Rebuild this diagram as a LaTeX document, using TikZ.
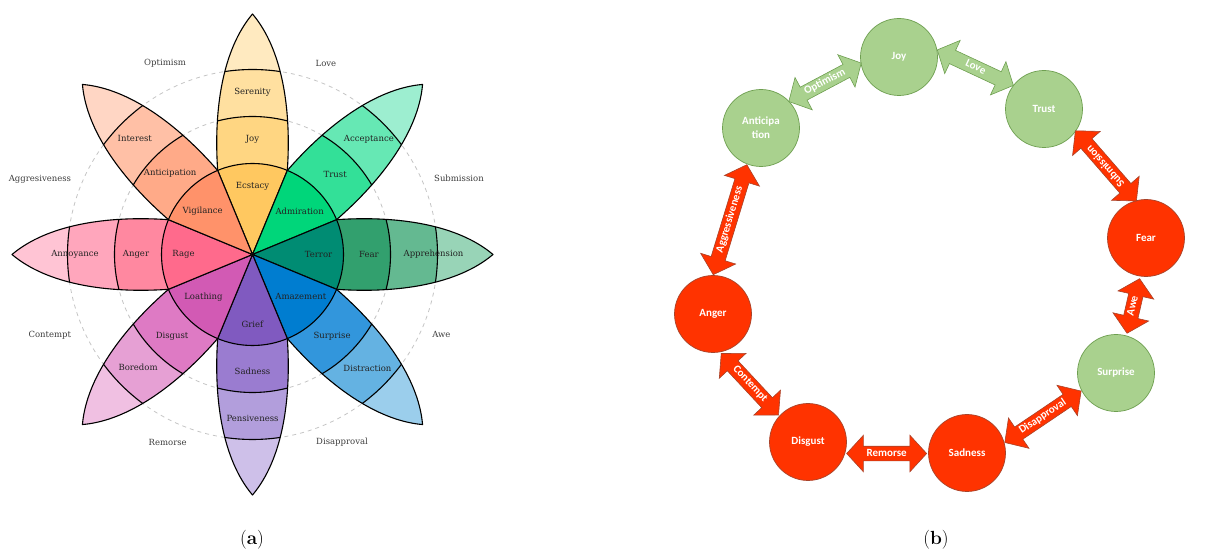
\documentclass[tikz,border=0pt]{standalone}
\usepackage{fontspec}
\newfontfamily\wheelfont{DejaVu Serif}
\newfontfamily\calfont{Carlito}
\usetikzlibrary{shapes.arrows}

% wheel colours: inner / second / third / tip
\definecolor{ecst}{HTML}{FFC860}\definecolor{joyc}{HTML}{FFD682}\definecolor{sere}{HTML}{FFE0A0}\definecolor{joyo}{HTML}{FFEAC0}
\definecolor{admi}{HTML}{00D67A}\definecolor{trus}{HTML}{33E098}\definecolor{acce}{HTML}{66E8B4}\definecolor{truo}{HTML}{9DEED0}
\definecolor{terr}{HTML}{008C73}\definecolor{fear}{HTML}{32A06E}\definecolor{appr}{HTML}{64B991}\definecolor{feao}{HTML}{98D4B7}
\definecolor{amaz}{HTML}{007DD0}\definecolor{surp}{HTML}{3296DC}\definecolor{dist}{HTML}{64B2E2}\definecolor{suro}{HTML}{9BCEEC}
\definecolor{grie}{HTML}{805AC0}\definecolor{sadn}{HTML}{9A7CD0}\definecolor{pens}{HTML}{B29EDC}\definecolor{sado}{HTML}{CEC0E9}
\definecolor{loat}{HTML}{D25AB4}\definecolor{disg}{HTML}{DE7AC4}\definecolor{bore}{HTML}{E6A0D4}\definecolor{diso}{HTML}{F0C0E2}
\definecolor{rage}{HTML}{FF6A8C}\definecolor{ange}{HTML}{FF88A0}\definecolor{anno}{HTML}{FFA6BC}\definecolor{ango}{HTML}{FFC4D4}
\definecolor{vigi}{HTML}{FF926A}\definecolor{anti}{HTML}{FFAA88}\definecolor{inte}{HTML}{FFC0A6}\definecolor{anto}{HTML}{FFD6C4}
\definecolor{guidegray}{HTML}{C4C4C4}
\definecolor{wtext}{HTML}{222222}
\definecolor{otext}{HTML}{3C3C3C}
% right panel
\definecolor{grfill}{HTML}{A9D18E}
\definecolor{grline}{HTML}{6E9F50}
\definecolor{rdfill}{HTML}{FF3300}
\definecolor{rdline}{HTML}{A8432A}

\newcommand{\petalpath}{(0,0) -- (112.5:91) .. controls (-39,145) and (-30,205) .. (0,240.5) .. controls (30,205) and (39,145) .. (67.5:91) -- cycle}

\begin{document}
\begin{tikzpicture}[x=1pt, y=1pt,
    rim/.style={line width=1.1pt, line join=round},
    guide/.style={draw=guidegray, line width=0.8pt, dash pattern=on 4pt off 4pt},
    wlbl/.style={font=\wheelfont\fontsize{8.5}{10}\selectfont, text=wtext, inner sep=1pt},
    olbl/.style={wlbl, text=otext},
    grnode/.style={circle, draw=grline, fill=grfill, line width=0.7pt, minimum size=77, inner sep=0pt,
        text=white, font=\calfont\bfseries\fontsize{11}{14}\selectfont},
    rdnode/.style={grnode, draw=rdline, fill=rdfill},
    arrbase/.style={double arrow, double arrow head extend=11pt, double arrow tip angle=95,
        inner xsep=1pt, inner ysep=3pt, text height=6.5pt, text depth=1.5pt,
        line width=0.6pt, text=white, font=\calfont\bfseries\fontsize{11}{12}\selectfont},
    garrow/.style={arrbase, draw=grline, fill=grfill},
    rarrow/.style={arrbase, draw=rdline, fill=rdfill},
    capt/.style={font=\fontsize{19}{22}\selectfont}
]
\useasboundingbox (0,0) rectangle (1208,554);

% (a) the wheel
\begin{scope}[shift={(252.5,299.5)}]
    \draw[guide] (0,0) circle (138) (0,0) circle (185);
    \foreach \ang/\ca/\cb/\cc/\cd in {90/ecst/joyc/sere/joyo, 45/admi/trus/acce/truo,
        0/terr/fear/appr/feao, -45/amaz/surp/dist/suro, -90/grie/sadn/pens/sado,
        -135/loat/disg/bore/diso, 180/rage/ange/anno/ango, 135/vigi/anti/inte/anto}{
        \begin{scope}[rotate=\ang-90]
            \fill[\cd] \petalpath;
            \begin{scope}
                \clip \petalpath;
                \fill[\cc] (0,0) circle (185);
                \fill[\cb] (0,0) circle (138);
                \fill[\ca] (0,0) circle (91);
                \draw[rim] (0,0) circle (185) (0,0) circle (138);
            \end{scope}
            \draw[rim] \petalpath;
        \end{scope}
    }
    \draw[rim] (0,0) circle (91);

    \node[wlbl] (wEcst) at (90:68) {Ecstacy};
    \node[wlbl] (wAdmi) at (42.5:64) {Admiration};
    \node[wlbl] (wTerr) at (0:66) {Terror};
    \node[wlbl] (wAmaz) at (-41:64) {Amazement};
    \node[wlbl] (wGrie) at (-90:70) {Grief};
    \node[wlbl] (wLoat) at (-139:65) {Loathing};
    \node[wlbl] (wRage) at (180:69) {Rage};
    \node[wlbl] (wVigi) at (139:66) {Vigilance};

    \node[wlbl] (wJoy) at (90:115) {Joy};
    \node[wlbl] (wTrus) at (44:115) {Trust};
    \node[wlbl] (wFear) at (0:116.5) {Fear};
    \node[wlbl] (wSurp) at (-45.7:114) {Surprise};
    \node[wlbl] (wSadn) at (-90:117) {Sadness};
    \node[wlbl] (wDisg) at (-134.6:114.5) {Disgust};
    \node[wlbl] (wAnge) at (180:116.5) {Anger};
    \node[wlbl] (wAnti) at (135.2:116) {Anticipation};

    \node[wlbl] (wSere) at (90:162) {Serenity};
    \node[wlbl] (wAcce) at (44.8:164) {Acceptance};
    \node[wlbl] (wAppr) at (0:181) {Apprehension};
    \node[wlbl] (wDist) at (-44.8:162) {Distraction};
    \node[wlbl] (wPens) at (-90:164) {Pensiveness};
    \node[wlbl] (wBore) at (-135.3:161) {Boredom};
    \node[wlbl] (wAnno) at (180:177.5) {Annoyance};
    \node[wlbl] (wInte) at (135.5:165) {Interest};

    \node[olbl] (wOpti) at (114.6:210) {Optimism};
    \node[olbl] (wLove) at (69:205) {Love};
    \node[olbl] (wSubm) at (20.2:220) {Submission};
    \node[olbl] (wAwe) at (-22.9:205) {Awe};
    \node[olbl] (wDisa) at (-64.5:208) {Disapproval};
    \node[olbl] (wRemo) at (-114.3:206) {Remorse};
    \node[olbl] (wCont) at (-158.4:218) {Contempt};
    \node[olbl] (wAggr) at (160.4:225.6) {Aggresiveness};
\end{scope}
\node[capt] (capa) at (252,14) {(\textbf{a})};

% (b) the circle of emotions
\node[grnode] (joy) at (899,497) {Joy};
\node[grnode] (trust) at (1044,445) {Trust};
\node[grnode, align=center] (antic) at (761,426) {Anticipa\\tion};
\node[rdnode] (fear) at (1146,316) {Fear};
\node[grnode] (surprise) at (1116,181) {Surprise};
\node[rdnode] (sadness) at (967,101) {Sadness};
\node[rdnode] (disgust) at (808,112) {Disgust};
\node[rdnode] (anger) at (713,240) {Anger};

\path (antic.43) -- node[garrow, rotate=28, minimum height=82] (optim) {Optimism} (joy.189);
\path (joy.10) -- node[garrow, rotate=-25, minimum height=84] (love) {Love} (trust.142);
\path (trust.-35) -- node[rarrow, rotate=131, minimum height=93] (submis) {Submission} (fear.105);
\path (antic.249) -- node[rarrow, rotate=73, minimum height=115] (aggr) {Aggressiveness} (anger.90);
\path (fear.-98) -- node[rarrow, rotate=77, minimum height=56] (awe) {Awe} (surprise.75);
\path (anger.-78) -- node[rarrow, rotate=-47, minimum height=84] (contempt) {Contempt} (disgust.139);
\path (disgust.-17) -- node[rarrow, minimum height=80] (remorse) {Remorse} (sadness.181);
\path (sadness.15) -- node[rarrow, rotate=34, minimum height=92] (disappr) {Disapproval} (surprise.207);

\node[capt] (capb) at (936,14) {(\textbf{b})};
\end{tikzpicture}
\end{document}
